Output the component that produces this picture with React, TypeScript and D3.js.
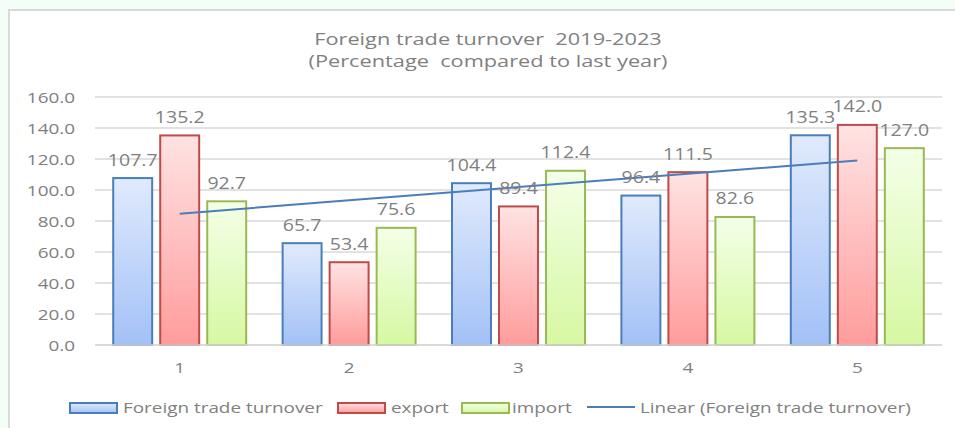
import React from "react";
import * as d3 from "d3";

const categories = ["1", "2", "3", "4", "5"];
const turnover = [107.7, 65.7, 104.4, 96.4, 135.3];
const exportVals = [135.2, 53.4, 89.4, 111.5, 142.0];
const importVals = [92.7, 75.6, 112.4, 82.6, 127.0];
const yTicks = [0, 20, 40, 60, 80, 100, 120, 140, 160];
const titleLines = ["Foreign trade turnover  2019-2023", "(Percentage  compared to last year)"];
const seriesNames = ["Foreign trade turnover", "export", "import"];
const trendName = "Linear (Foreign trade turnover)";

const W = 955;
const H = 428;
const SX = 1.26;
const FONT = "'Open Sans', sans-serif";
const GRAY = "#808080";

const series = [
  { name: seriesNames[0], values: turnover, stroke: "#4a7ebb", top: "#e0eafc", bottom: "#a3c1f7", id: "gBlue" },
  { name: seriesNames[1], values: exportVals, stroke: "#be4b48", top: "#ffe3e3", bottom: "#ff9c9c", id: "gRed" },
  { name: seriesNames[2], values: importVals, stroke: "#98b954", top: "#f4ffe8", bottom: "#d6f8a2", id: "gGreen" },
];

function T({ x, y, size, anchor = "middle", children, fill = GRAY, sx = SX }: any) {
  return (
    <text
      transform={`translate(${x},${y}) scale(${sx},1)`}
      fontSize={size}
      fontFamily={FONT}
      fill={fill}
      textAnchor={anchor}
      style={{ whiteSpace: "pre" }}
    >
      {children}
    </text>
  );
}

export default function App() {
  const x = d3.scaleBand<string>().domain(categories).range([95, 942]).padding(0);
  const y = d3.scaleLinear().domain([0, 160]).range([345, 97]);
  const bw = x.bandwidth();
  const step = bw * 0.2775;
  const barW = bw * 0.23;
  const cx = (c: string) => (x(c) as number) + bw / 2;

  // linear trend of turnover
  const xs = categories.map((_, i) => i + 1);
  const mx = d3.mean(xs) as number;
  const my = d3.mean(turnover) as number;
  const slope =
    (d3.sum(xs, (v, i) => (v - mx) * (turnover[i] - my)) as number) /
    (d3.sum(xs, (v) => (v - mx) * (v - mx)) as number);
  const icpt = my - slope * mx;
  const trend = categories.map((c, i) => [cx(c), y(icpt + slope * xs[i])] as [number, number]);
  const line = d3.line();

  const legendItems = [
    { sw: 70, tx: 123, s: series[0] },
    { sw: 338, tx: 391, s: series[1] },
    { sw: 462, tx: 512, s: series[2] },
  ];

  return (
    <svg width={W} height={H} style={{ position: "absolute", left: 0, top: 0, display: "block" }}>
      <defs>
        {series.map((s) => (
          <linearGradient key={s.id} id={s.id} x1="0" y1="0" x2="0" y2="1">
            <stop offset="0%" stopColor={s.top} />
            <stop offset="100%" stopColor={s.bottom} />
          </linearGradient>
        ))}
      </defs>
      <rect x={0} y={0} width={W} height={H} fill="#f3fff6" />
      <rect x={9} y={10} width={W + 20} height={H + 20} fill="#ffffff" stroke="#d9d9d9" strokeWidth={2} />

      <T x={488} y={45} size={16} sx={1.36}>{titleLines[0]}</T>
      <T x={488} y={67} size={16} sx={1.36}>{titleLines[1]}</T>

      {yTicks.map((t) => (
        <g key={t}>
          <line x1={95} x2={942} y1={y(t)} y2={y(t)} stroke="#d9d9d9" strokeWidth={1.5} />
          <T x={75} y={y(t) + 5.5} size={15} anchor="end">{t.toFixed(1)}</T>
        </g>
      ))}

      {series.map((s, si) =>
        categories.map((c, i) => {
          const bx = cx(c) + (si - 1) * step - barW / 2;
          const top = y(s.values[i]);
          return (
            <rect
              key={s.id + c}
              x={bx}
              y={top}
              width={barW}
              height={y(0) - top}
              fill={`url(#${s.id})`}
              stroke={s.stroke}
              strokeWidth={2}
            />
          );
        })
      )}

      <line x1={95} x2={942} y1={y(0)} y2={y(0)} stroke="#d9d9d9" strokeWidth={1.5} />

      <path d={line(trend) as string} fill="none" stroke="#4a7ebb" strokeWidth={2} />

      {series.map((s, si) =>
        categories.map((c, i) => (
          <T key={"l" + s.id + c} x={cx(c) + (si - 1) * step} y={y(s.values[i]) - 12.5} size={15.5}>
            {s.values[i].toFixed(1)}
          </T>
        ))
      )}

      {categories.map((c) => (
        <T key={"x" + c} x={cx(c)} y={373} size={15}>{c}</T>
      ))}

      {legendItems.map((it) => (
        <g key={it.s.id}>
          <rect x={it.sw} y={403} width={47} height={10} fill={`url(#${it.s.id})`} stroke={it.s.stroke} strokeWidth={2} />
          <T x={it.tx} y={413} size={15} anchor="start">{it.s.name}</T>
        </g>
      ))}
      <line x1={587} x2={635} y1={407} y2={407} stroke="#4a7ebb" strokeWidth={2} />
      <T x={640} y={413} size={15} anchor="start">{trendName}</T>
    </svg>
  );
}
